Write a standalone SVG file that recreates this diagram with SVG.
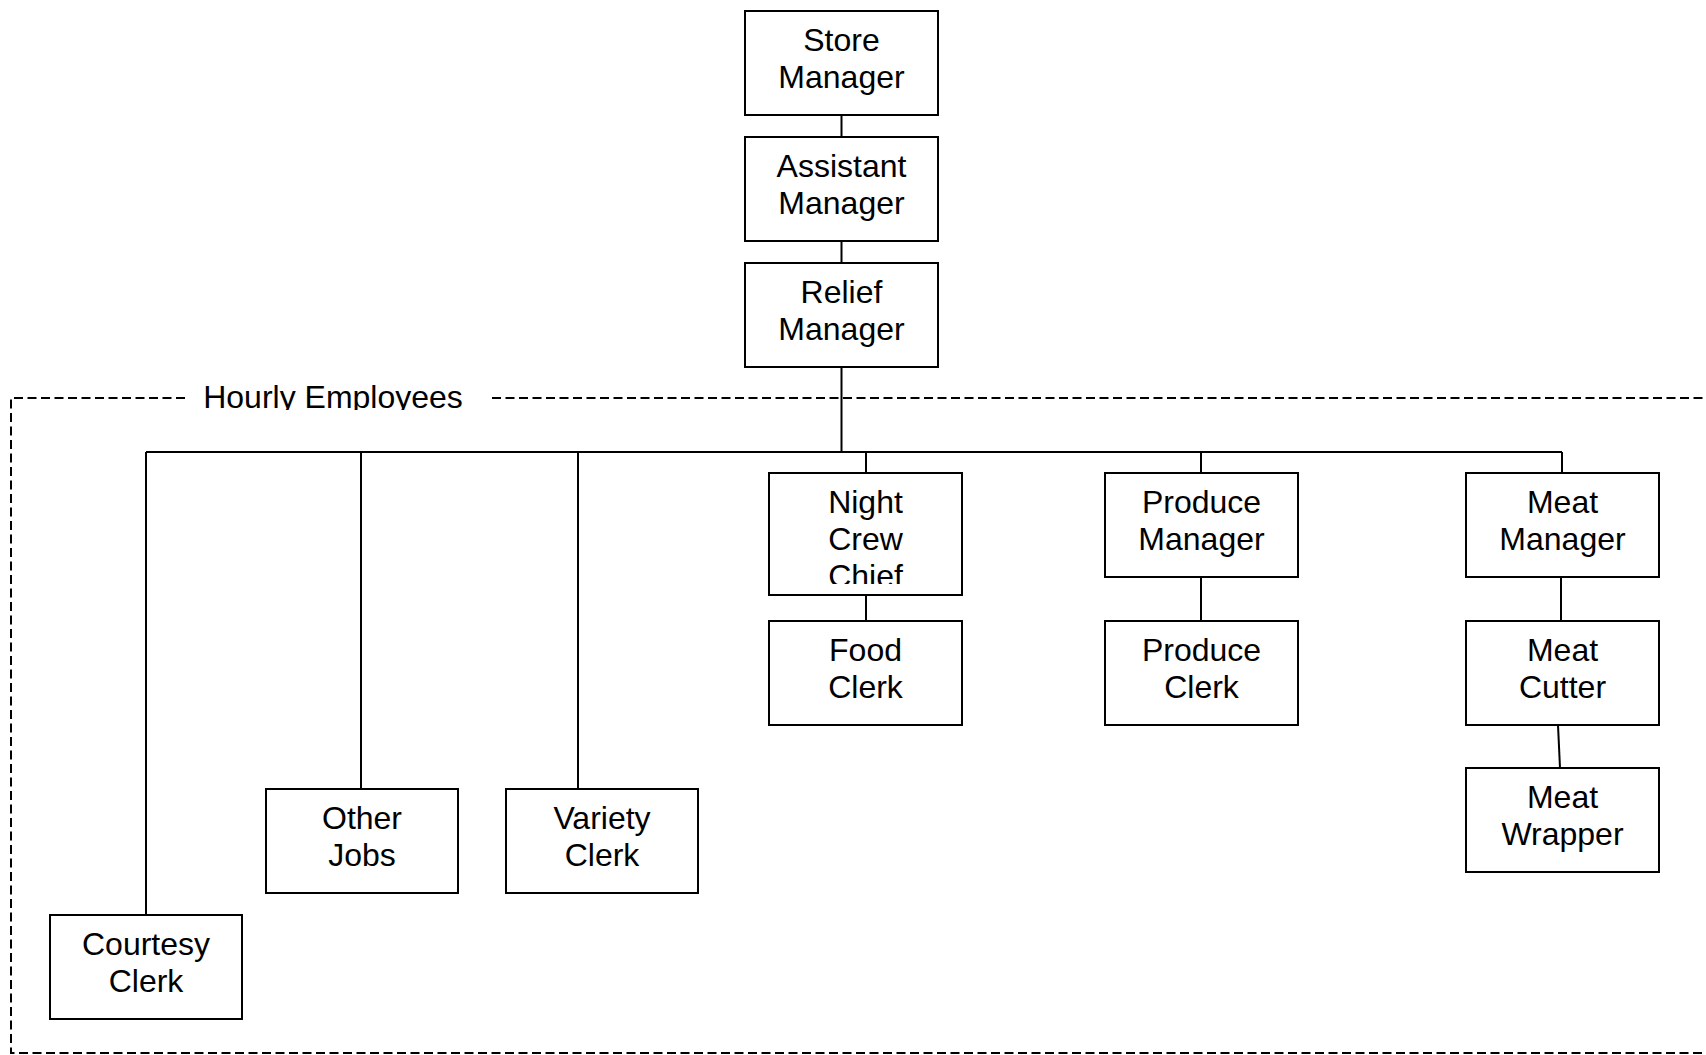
<svg xmlns="http://www.w3.org/2000/svg" width="1706" height="1055" viewBox="0 0 1706 1055">
<style>
.box{fill:#fff;stroke:#000;stroke-width:2}
.ln{stroke:#000;stroke-width:2;fill:none}
.dash{stroke:#000;stroke-width:2;fill:none;stroke-dasharray:9 4.5}
text{font-family:"Liberation Sans",Arial,sans-serif;font-size:32px;fill:#000;text-anchor:middle}
</style>
<defs>
<clipPath id="clipHourly"><rect x="150" y="370" width="360" height="40"/></clipPath>
<clipPath id="clipNight"><rect x="770" y="474" width="191" height="110"/></clipPath>
</defs>
<rect width="1706" height="1055" fill="#fff"/>
<g id="hourly-boundary">
<path class="dash" d="M185,398 H11 V1053 H1704"/>
<path class="dash" d="M492,398 H1704"/>
<text x="333" y="408" clip-path="url(#clipHourly)">Hourly Employees</text>
</g>
<g id="connectors">
<line class="ln" x1="841.5" y1="115" x2="841.5" y2="137"/>
<line class="ln" x1="841.5" y1="241" x2="841.5" y2="263"/>
<line class="ln" x1="841.5" y1="367" x2="841.5" y2="452"/>
<line class="ln" x1="146" y1="452" x2="1562" y2="452"/>
<line class="ln" x1="146" y1="452" x2="146" y2="915"/>
<line class="ln" x1="361" y1="452" x2="361" y2="789"/>
<line class="ln" x1="578" y1="452" x2="578" y2="789"/>
<line class="ln" x1="866" y1="452" x2="866" y2="473"/>
<line class="ln" x1="1201" y1="452" x2="1201" y2="473"/>
<line class="ln" x1="1562" y1="452" x2="1562" y2="473"/>
<line class="ln" x1="866" y1="595" x2="866" y2="621"/>
<line class="ln" x1="1201" y1="577" x2="1201" y2="621"/>
<line class="ln" x1="1561" y1="577" x2="1561" y2="621"/>
<line class="ln" x1="1558" y1="725" x2="1560" y2="768"/>
</g>
<g id="store-manager"><rect class="box" x="745" y="11" width="193" height="104"/><text x="841.5" y="51">Store</text><text x="841.5" y="88">Manager</text></g>
<g id="assistant-manager"><rect class="box" x="745" y="137" width="193" height="104"/><text x="841.5" y="177">Assistant</text><text x="841.5" y="214">Manager</text></g>
<g id="relief-manager"><rect class="box" x="745" y="263" width="193" height="104"/><text x="841.5" y="303">Relief</text><text x="841.5" y="340">Manager</text></g>
<g id="night-crew-chief"><rect class="box" x="769" y="473" width="193" height="122"/><g clip-path="url(#clipNight)"><text x="865.5" y="513">Night</text><text x="865.5" y="550">Crew</text><text x="865.5" y="587">Chief</text></g></g>
<g id="food-clerk"><rect class="box" x="769" y="621" width="193" height="104"/><text x="865.5" y="661">Food</text><text x="865.5" y="698">Clerk</text></g>
<g id="produce-manager"><rect class="box" x="1105" y="473" width="193" height="104"/><text x="1201.5" y="513">Produce</text><text x="1201.5" y="550">Manager</text></g>
<g id="produce-clerk"><rect class="box" x="1105" y="621" width="193" height="104"/><text x="1201.5" y="661">Produce</text><text x="1201.5" y="698">Clerk</text></g>
<g id="meat-manager"><rect class="box" x="1466" y="473" width="193" height="104"/><text x="1562.5" y="513">Meat</text><text x="1562.5" y="550">Manager</text></g>
<g id="meat-cutter"><rect class="box" x="1466" y="621" width="193" height="104"/><text x="1562.5" y="661">Meat</text><text x="1562.5" y="698">Cutter</text></g>
<g id="meat-wrapper"><rect class="box" x="1466" y="768" width="193" height="104"/><text x="1562.5" y="808">Meat</text><text x="1562.5" y="845">Wrapper</text></g>
<g id="other-jobs"><rect class="box" x="266" y="789" width="192" height="104"/><text x="362" y="829">Other</text><text x="362" y="866">Jobs</text></g>
<g id="variety-clerk"><rect class="box" x="506" y="789" width="192" height="104"/><text x="602" y="829">Variety</text><text x="602" y="866">Clerk</text></g>
<g id="courtesy-clerk"><rect class="box" x="50" y="915" width="192" height="104"/><text x="146" y="955">Courtesy</text><text x="146" y="992">Clerk</text></g>
</svg>
